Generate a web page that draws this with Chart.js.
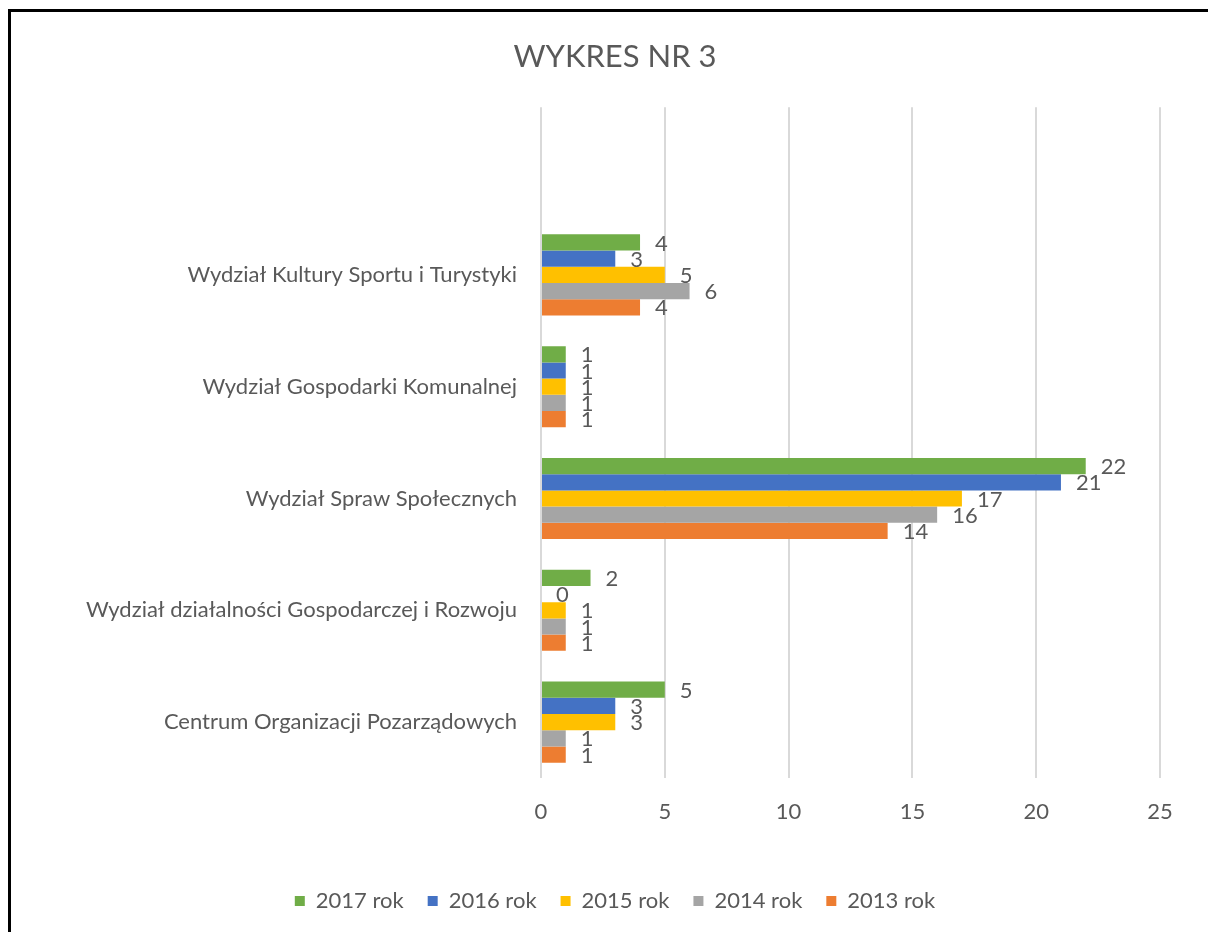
<!DOCTYPE html>
<html>
<head>
<meta charset="utf-8">
<script src="https://cdn.jsdelivr.net/npm/chart.js@4.4.0/dist/chart.umd.min.js"></script>
<style>
  html, body { margin:0; padding:0; background:#fff; overflow:hidden; }
  #wrap { position:relative; width:1208px; height:932px; }
  #frame { position:absolute; left:8px; top:9px; width:1300px; height:1000px;
           border-left:3px solid #000; border-top:3px solid #000; pointer-events:none; }
</style>
</head>
<body>
<div id="wrap">
  <canvas id="c" width="1208" height="932"></canvas>
  <div id="frame"></div>
</div>
<script>
// categories top -> bottom (first row is left empty, as in the original)
const categories = [
  "",
  "Wydział Kultury Sportu i Turystyki",
  "Wydział Gospodarki Komunalnej",
  "Wydział Spraw Społecznych",
  "Wydział działalności Gospodarczej i Rozwoju",
  "Centrum Organizacji Pozarządowych"
];
const rok2017 = [null, 4, 1, 22, 2, 5];
const rok2016 = [null, 3, 1, 21, 0, 3];
const rok2015 = [null, 5, 1, 17, 1, 3];
const rok2014 = [null, 6, 1, 16, 1, 1];
const rok2013 = [null, 4, 1, 14, 1, 1];
const seriesNames = ["2017 rok", "2016 rok", "2015 rok", "2014 rok", "2013 rok"];
const xTicks = [0, 5, 10, 15, 20, 25];

const COLORS = ["#70ad47", "#4472c4", "#ffc000", "#a5a5a5", "#ed7d31"];
const TXT = "#595959";
const FONT = "Lato";
const FS = 22;

// value labels to the right of each bar
const barLabels = {
  id: "barLabels",
  afterDatasetsDraw(chart) {
    const ctx = chart.ctx;
    ctx.save();
    ctx.font = FS + "px " + FONT;
    ctx.fillStyle = TXT;
    ctx.textAlign = "left";
    ctx.textBaseline = "middle";
    chart.data.datasets.forEach((ds, i) => {
      const meta = chart.getDatasetMeta(i);
      meta.data.forEach((bar, j) => {
        const v = ds.data[j];
        if (v === null || v === undefined) return;
        ctx.fillText(String(v), bar.x + 15, bar.y + 1);
      });
    });
    ctx.restore();
  }
};

const all = [rok2017, rok2016, rok2015, rok2014, rok2013];
new Chart(document.getElementById("c"), {
  type: "bar",
  data: {
    labels: categories,
    datasets: all.map((d, i) => ({
      label: seriesNames[i],
      data: d,
      backgroundColor: COLORS[i],
      borderWidth: 0,
      categoryPercentage: 0.725,
      barPercentage: 1.0
    }))
  },
  options: {
    indexAxis: "y",
    responsive: false,
    animation: false,
    layout: { padding: { left: 70, right: 48, top: 22, bottom: 10 } },
    plugins: {
      title: {
        display: true,
        text: "WYKRES NR 3",
        color: TXT,
        font: { family: FONT, size: 31, weight: "normal" },
        padding: { top: 16, bottom: 32 }
      },
      legend: {
        position: "bottom",
        labels: {
          color: TXT,
          font: { family: FONT, size: FS },
          boxWidth: 10, boxHeight: 10,
          padding: 24
        }
      },
      tooltip: { enabled: false }
    },
    scales: {
      x: {
        min: 0, max: 25,
        afterBuildTicks: (ax) => { ax.ticks = xTicks.map(v => ({ value: v })); },
        grid: { color: "#d9d9d9", lineWidth: 2, drawTicks: false },
        border: { display: false },
        ticks: { color: TXT, font: { family: FONT, size: FS }, padding: 21 },
        afterFit: (ax) => { ax.height = 88; }
      },
      y: {
        grid: { display: false },
        border: { display: false },
        ticks: { color: TXT, font: { family: FONT, size: FS }, padding: 16, autoSkip: false },
        afterFit: (ax) => { ax.width = 471; }
      }
    }
  },
  plugins: [barLabels]
});
</script>
</body>
</html>
